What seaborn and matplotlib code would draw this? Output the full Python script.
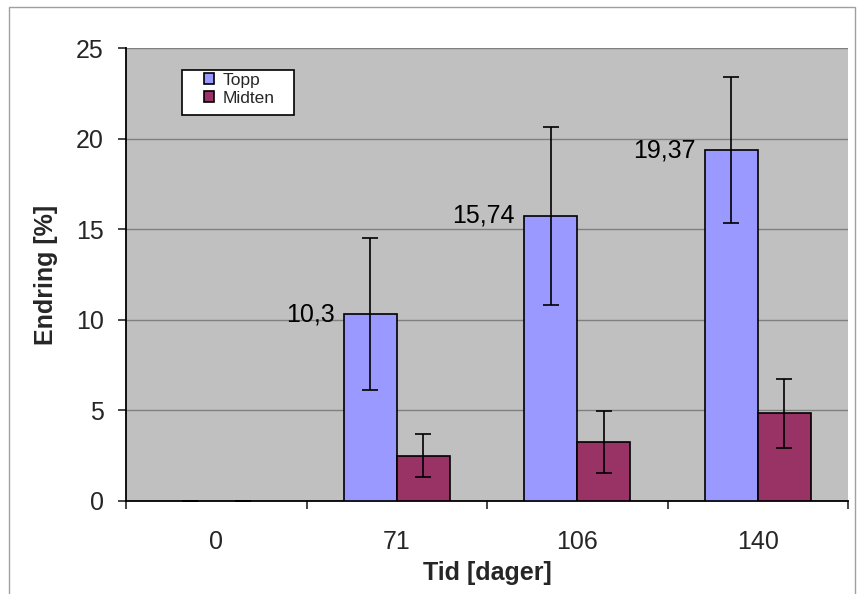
import numpy as np
import pandas as pd
import seaborn as sns
import matplotlib.pyplot as plt
from matplotlib.patches import Rectangle

# data
days = ['0', '71', '106', '140']
topp = [0, 10.3, 15.74, 19.37]
topp_err = [0, 4.2, 4.9, 4.05]
midten = [0, 2.5, 3.25, 4.85]
midten_err = [0, 1.2, 1.7, 1.9]
value_labels = ['', '10,3', '15,74', '19,37']

df = pd.DataFrame({
    'Tid': days * 2,
    'Endring': topp + midten,
    'Serie': ['Topp'] * len(days) + ['Midten'] * len(days),
})

sns.set_style('white')
plt.rcParams['font.family'] = ['Liberation Sans', 'DejaVu Sans']

W, H = 858, 594
fig = plt.figure(figsize=(W / 100, H / 100), dpi=100)
ax = fig.add_axes([126 / W, 1 - 501 / H, (848 - 126) / W, (501 - 48) / H])
ax.set_facecolor('#C0C0C0')

pal = {'Topp': '#9999FF', 'Midten': '#993366'}
sns.barplot(data=df, x='Tid', y='Endring', hue='Serie', palette=pal,
            width=0.59, errorbar=None, edgecolor='black', linewidth=1.2,
            saturation=1, ax=ax, legend=True, zorder=3)

# error bars from bar centres
errs = topp_err + midten_err
vals = topp + midten
bars = [p for p in ax.patches if p.get_width() > 0][:len(vals)]
for p, v, e in zip(bars, vals, errs):
    if v == 0:
        p.set_edgecolor('none')
    cx = p.get_x() + p.get_width() / 2
    ax.errorbar(cx, v, yerr=e, fmt='none', ecolor='black', elinewidth=1.2,
                capsize=6, capthick=1.2, zorder=4)

# value labels to the left of the Topp bars
for p, lab in zip(bars[:len(days)], value_labels):
    if lab:
        ax.text(p.get_x() - 0.05, p.get_height(), lab, ha='right', va='center',
                fontsize=18, color='black', zorder=5)

ax.set_ylim(0, 25)
ax.set_xlim(-0.5, len(days) - 0.5)
ax.set_yticks(np.arange(0, 26, 5))
ax.yaxis.grid(True, color='#808080', linewidth=1)
ax.set_axisbelow(True)
ax.set_xticks(range(len(days)))
ax.set_xticklabels(days)
ax.set_xticks(np.arange(-0.5, len(days)), minor=True)
ax.tick_params(axis='x', which='major', length=0, pad=21, labelsize=18)
ax.tick_params(axis='x', which='minor', length=6, width=1.2, direction='out', bottom=True)
ax.tick_params(axis='y', length=6, width=1.2, direction='out', left=True, labelsize=18, pad=10)

for s in ['top', 'right']:
    ax.spines[s].set_visible(False)
for s in ['left', 'bottom']:
    ax.spines[s].set_color('black')
    ax.spines[s].set_linewidth(1.3)

ax.set_xlabel('Tid [dager]', fontsize=18, fontweight='bold', labelpad=5)
ax.set_ylabel('Endring [%]', fontsize=18, fontweight='bold', labelpad=13)

# legend: frameless entries inside a drawn white box
ax.legend_.remove()
fig.add_artist(Rectangle((182 / W, 1 - 115 / H), (294 - 182) / W, 45 / H,
                         transform=fig.transFigure, facecolor='white',
                         edgecolor='black', linewidth=1.2, zorder=5))
handles, labels = ax.get_legend_handles_labels()
leg = fig.legend(handles, labels, loc='upper left',
                 bbox_to_anchor=(204 / W, 1 - 73 / H), fontsize=12.5,
                 frameon=False, handlelength=0.6, handleheight=0.6,
                 handletextpad=0.45, borderpad=0, labelspacing=0.15,
                 borderaxespad=0)
leg.set_zorder(6)
for h in leg.legend_handles:
    h.set_edgecolor('black')
    h.set_linewidth(1.2)

# outer chart frame
fig.add_artist(Rectangle((9 / W, -0.01), (855 - 9) / W, 1 - 7 / H + 0.01,
                         transform=fig.transFigure, fill=False,
                         edgecolor='#A0A0A0', linewidth=1))

fig.savefig('out.png', dpi=100)
